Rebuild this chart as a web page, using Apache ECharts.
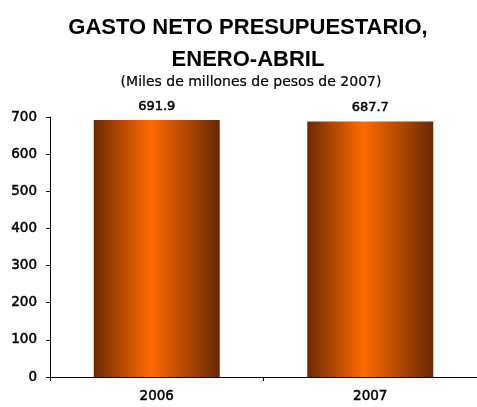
<!DOCTYPE html>
<html><head><meta charset="utf-8">
<script src="https://cdn.jsdelivr.net/npm/echarts@6/dist/echarts.min.js"></script>
<style>html,body{margin:0;padding:0;background:#fff}#c{width:477px;height:407px}</style>
</head><body><div id="c"></div>
<script>
var categories = ['2006', '2007'];
var values = [691.9, 687.7];
var yTicks = { min: 0, max: 700, interval: 100 };

var chart = echarts.init(document.getElementById('c'));
var grad = new echarts.graphic.LinearGradient(0, 0, 1, 0, [
  { offset: 0, color: '#6e2a00' },
  { offset: 0.45, color: '#ff6a00' },
  { offset: 1, color: '#6a2800' }
]);
var txt = { color: '#000', fontFamily: 'DejaVu Sans', fontWeight: 'normal', fontSize: 13.5, textBorderColor: '#000', textBorderWidth: 0.5 };
chart.setOption({
  animation: false,
  title: [
    { text: 'GASTO NETO PRESUPUESTARIO,\nENERO-ABRIL', left: 243, top: 7, textAlign: 'center',
      textStyle: { fontFamily: 'Liberation Sans', fontWeight: 'bold', fontSize: 22, lineHeight: 32, color: '#000' } },
    { text: '(Miles de millones de pesos de 2007)', left: 246, top: 70, textAlign: 'center',
      textStyle: { fontFamily: 'DejaVu Sans', fontWeight: 'normal', fontSize: 14, color: '#000', textBorderColor: '#000', textBorderWidth: 0.2 } }
  ],
  grid: { left: 50, right: -7, top: 117, bottom: 30 },
  xAxis: {
    type: 'category', data: categories,
    axisLine: { lineStyle: { color: '#000', width: 1 } },
    axisTick: { show: true, length: 4, lineStyle: { color: '#000' } },
    axisLabel: Object.assign({}, txt, { margin: 12 })
  },
  yAxis: {
    type: 'value', min: yTicks.min, max: yTicks.max, interval: yTicks.interval,
    splitLine: { show: false },
    axisLine: { show: true, lineStyle: { color: '#000', width: 1 } },
    axisTick: { show: true, length: 4, lineStyle: { color: '#000' } },
    axisLabel: Object.assign({}, txt, { margin: 13, padding: [4, 0, 0, 0] })
  },
  series: [{
    type: 'bar', data: values, barWidth: '59%',
    itemStyle: { color: grad },
    label: Object.assign({}, txt, { show: true, position: 'top', distance: 7, fontSize: 13,
      formatter: function (p) { return p.value.toFixed(1); } })
  }]
});
</script></body></html>
